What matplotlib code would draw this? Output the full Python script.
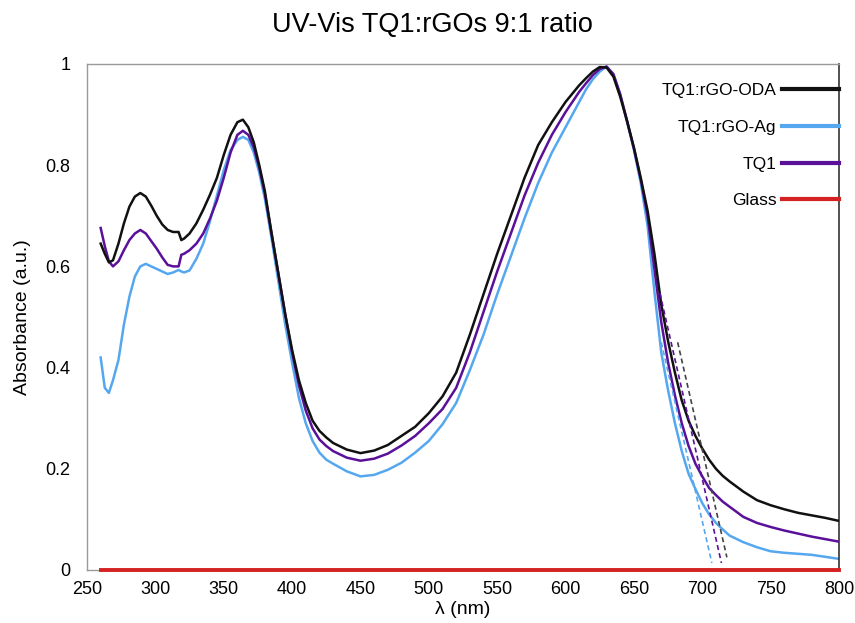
import matplotlib.pyplot as plt
from matplotlib.lines import Line2D

plt.rcParams['font.family'] = ['Liberation Sans', 'DejaVu Sans']

# wavelength grid (nm)
wl = [260, 263, 266, 269, 273, 277, 281, 285, 289, 293, 297, 301, 305, 309, 313, 317, 319, 321,
      325, 330, 335, 340, 345, 350, 355, 360, 364, 368, 372, 376, 380, 385, 390, 395, 400, 405,
      410, 415, 420, 425, 430, 440, 450, 460, 470, 480, 490, 500, 510, 520, 530, 540, 550, 560,
      570, 580, 590, 600, 610, 615, 620, 625, 630, 635, 640, 645, 650, 655, 660, 665, 670, 675,
      680, 685, 690, 695, 700, 705, 710, 715, 720, 730, 740, 750, 760, 770, 780, 790, 800]

oda = [0.645, 0.625, 0.608, 0.612, 0.645, 0.685, 0.718, 0.738, 0.745, 0.738, 0.72, 0.70, 0.683,
       0.672, 0.668, 0.668, 0.652, 0.655, 0.665, 0.685, 0.712, 0.742, 0.775, 0.82, 0.86, 0.885,
       0.89, 0.875, 0.845, 0.80, 0.75, 0.665, 0.585, 0.505, 0.435, 0.375, 0.33, 0.295, 0.275,
       0.262, 0.251, 0.238, 0.231, 0.236, 0.247, 0.265, 0.283, 0.31, 0.343, 0.39, 0.465, 0.545,
       0.625, 0.70, 0.775, 0.84, 0.885, 0.925, 0.958, 0.972, 0.985, 0.994, 0.993, 0.975, 0.935,
       0.887, 0.835, 0.775, 0.71, 0.625, 0.525, 0.452, 0.39, 0.335, 0.295, 0.265, 0.24, 0.218,
       0.20, 0.186, 0.175, 0.155, 0.138, 0.128, 0.12, 0.113, 0.108, 0.103, 0.097]

tq1 = [0.676, 0.64, 0.61, 0.60, 0.61, 0.632, 0.652, 0.665, 0.672, 0.665, 0.65, 0.635, 0.618,
       0.603, 0.60, 0.60, 0.623, 0.625, 0.632, 0.645, 0.665, 0.695, 0.73, 0.775, 0.825, 0.86,
       0.868, 0.86, 0.835, 0.795, 0.745, 0.665, 0.585, 0.505, 0.43, 0.365, 0.315, 0.28, 0.258,
       0.245, 0.235, 0.222, 0.216, 0.22, 0.23, 0.246, 0.265, 0.29, 0.318, 0.36, 0.43, 0.51, 0.59,
       0.665, 0.74, 0.805, 0.86, 0.905, 0.945, 0.962, 0.978, 0.99, 0.995, 0.98, 0.94,
       0.888, 0.833, 0.772, 0.70, 0.595, 0.49, 0.41, 0.345, 0.29, 0.245, 0.21, 0.185, 0.162,
       0.148, 0.135, 0.125, 0.105, 0.093, 0.085, 0.078, 0.072, 0.066, 0.061, 0.056]

ag = [0.42, 0.36, 0.35, 0.375, 0.415, 0.485, 0.54, 0.58, 0.60, 0.605, 0.60, 0.595, 0.59, 0.585,
      0.588, 0.593, 0.59, 0.588, 0.592, 0.615, 0.645, 0.69, 0.74, 0.79, 0.83, 0.85, 0.856, 0.85,
      0.825, 0.785, 0.735, 0.655, 0.57, 0.485, 0.41, 0.34, 0.29, 0.255, 0.232, 0.218, 0.21, 0.195,
      0.185, 0.188, 0.198, 0.212, 0.232, 0.255, 0.288, 0.33, 0.395, 0.465, 0.545, 0.62, 0.695,
      0.765, 0.825, 0.875, 0.925, 0.95, 0.97, 0.985, 0.995, 0.98, 0.94, 0.885, 0.83, 0.765, 0.68,
      0.55, 0.43, 0.355, 0.29, 0.235, 0.19, 0.16, 0.132, 0.11, 0.093, 0.08, 0.068, 0.055, 0.045,
      0.037, 0.034, 0.032, 0.03, 0.026, 0.022]

glass_x = [260, 800]
glass_y = [0.0, 0.0]

# tangent lines to the absorption edge
oda_tan_x, oda_tan_y = [682, 718], [0.45, 0.025]
tq1_tan_x, tq1_tan_y = [669, 714], [0.547, 0.014]
ag_tan_x, ag_tan_y = [670, 707], [0.45, 0.014]

c_oda = '#111111'
c_ag = '#55a7ef'
c_tq1 = '#5a1099'
c_glass = '#d42121'

fig = plt.figure(figsize=(8.55, 6.23), dpi=100)
ax = fig.add_axes([87 / 855, 53 / 623, 752 / 855, 506 / 623])

ax.plot(glass_x, glass_y, color=c_glass, lw=2.8, clip_on=False, zorder=10)
ax.plot(wl, ag, color=c_ag, lw=1.8, zorder=2)
ax.plot(wl, tq1, color=c_tq1, lw=1.8, zorder=3)
ax.plot(wl, oda, color=c_oda, lw=1.8, zorder=4)

ax.plot(ag_tan_x, ag_tan_y, color=c_ag, lw=1.2, ls=(0, (3, 2)), zorder=5)
ax.plot(tq1_tan_x, tq1_tan_y, color=c_tq1, lw=1.2, ls=(0, (3, 2)), zorder=5)
ax.plot(oda_tan_x, oda_tan_y, color='#444444', lw=1.2, ls=(0, (3, 2)), zorder=5)

ax.set_xlim(250, 800)
ax.set_ylim(0, 1)
ax.set_xticks(range(250, 801, 50))
ax.set_yticks([0, 0.2, 0.4, 0.6, 0.8, 1])
ax.set_yticklabels(['0', '0.2', '0.4', '0.6', '0.8', '1'])
ax.tick_params(axis='both', length=0, labelsize=13)
ax.tick_params(axis='y', pad=12)
ax.tick_params(axis='x', pad=8)

for s in ['left', 'bottom', 'top']:
    ax.spines[s].set_color('#9a9a9a')
    ax.spines[s].set_linewidth(1.0)
ax.spines['right'].set_color('#333333')
ax.spines['right'].set_linewidth(1.2)

ax.set_xlabel('λ (nm)', fontsize=14, labelpad=2)
ax.set_ylabel('Absorbance (a.u.)', fontsize=14, labelpad=10)
fig.text(432 / 855, 1 - 25 / 623, 'UV-Vis TQ1:rGOs 9:1 ratio', fontsize=19.5,
         ha='center', va='center')

handles = [Line2D([], [], color=c_oda, lw=3),
           Line2D([], [], color=c_ag, lw=3),
           Line2D([], [], color=c_tq1, lw=3),
           Line2D([], [], color=c_glass, lw=3)]
labels = ['TQ1:rGO-ODA', 'TQ1:rGO-Ag', 'TQ1', 'Glass']
ax.legend(handles, labels, loc='upper right', bbox_to_anchor=(1.0, 0.963),
          frameon=False, markerfirst=False, fontsize=12.5, handlelength=3.3,
          handletextpad=0.3, labelspacing=1.25, borderpad=0, borderaxespad=0)

plt.savefig('out.png', dpi=100)
